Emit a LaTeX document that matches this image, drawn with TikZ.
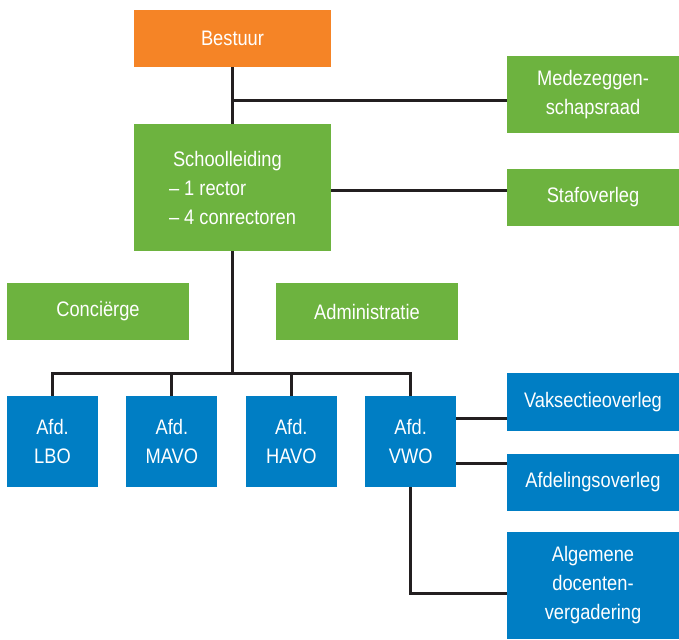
\documentclass[tikz,border=0pt]{standalone}
\usepackage{fontspec}
\setmainfont{Liberation Sans}[FakeStretch=0.87]
\usetikzlibrary{positioning,calc}
\definecolor{oranje}{HTML}{F58426}
\definecolor{groen}{HTML}{6DB33F}
\definecolor{blauw}{HTML}{007EC4}
\definecolor{lijn}{HTML}{231F20}

\begin{document}
\begin{tikzpicture}[x=1pt, y=-1pt, node distance=28pt,
    every node/.style={font=\fontsize{21}{29}\selectfont, text=white, inner sep=0pt},
    gbox/.style={rectangle, fill=groen, minimum height=57pt},
    bbox/.style={rectangle, fill=blauw, minimum width=91pt, minimum height=91pt, align=center},
    verb/.style={draw=lijn, line width=3pt}]
  \useasboundingbox (0,0) rectangle (679,639);
  \node (bestuur) at (232.5,38.5) [rectangle, fill=oranje, minimum width=197pt, minimum height=57pt] {Bestuur};
  \node (sl) at (232.5,187.5) [gbox, minimum width=197pt, minimum height=127pt, align=left] {\hspace*{4pt}Schoolleiding\\– 1 rector\\– 4 conrectoren};
  \node (mzr) at (593,94.5) [gbox, minimum width=172pt, minimum height=77pt, align=center] {Medezeggen-\\schapsraad};
  \node (staf) at (593,197.5) [gbox, minimum width=172pt] {Stafoverleg};
  \node (con) at (98,311.5) [gbox, minimum width=182pt] {Conciërge};
  \node (adm) at (367,311.5) [gbox, minimum width=182pt] {Administratie};
  \node (lbo) at (52.5,441.5) [bbox] {Afd.\\LBO};
  \node (mavo) [right=of lbo, bbox] {Afd.\\MAVO};
  \node (havo) [right=of mavo, bbox] {Afd.\\HAVO};
  \node (vwo) [right=of havo, bbox] {Afd.\\VWO};
  \node (vak) at (593,402) [bbox, minimum width=172pt, minimum height=58pt] {Vaksectieoverleg};
  \node (afdo) at (593,482.5) [bbox, minimum width=172pt, minimum height=57pt] {Afdelingsoverleg};
  \node (alg) at (593,585.5) [bbox, minimum width=172pt, minimum height=107pt] {Algemene\\docenten-\\vergadering};
  \coordinate (k1) at (232.5,101);
  \coordinate (bus) at (232.5,373);
  \draw[verb] (bestuur) -- (sl);
  \draw[verb] (k1) -- (k1 -| mzr.west);
  \draw[verb] ([yshift=-2.5pt]sl.east) coordinate (s1) -- (s1 -| staf.west);
  \draw[verb] (sl) -- (bus);
  \draw[verb] (lbo) |- (bus) -| (vwo);
  \foreach \n in {mavo,havo}
    \draw[verb] (\n) -- (\n |- bus);
  \draw[verb] ([yshift=23.5pt]vwo.east) coordinate (v1) -- (v1 -| vak.west);
  \draw[verb] ([yshift=-21.5pt]vwo.east) coordinate (v2) -- (v2 -| afdo.west);
  \draw[verb] (vwo) |- ([yshift=-7.5pt]alg.west);
\end{tikzpicture}
\end{document}
